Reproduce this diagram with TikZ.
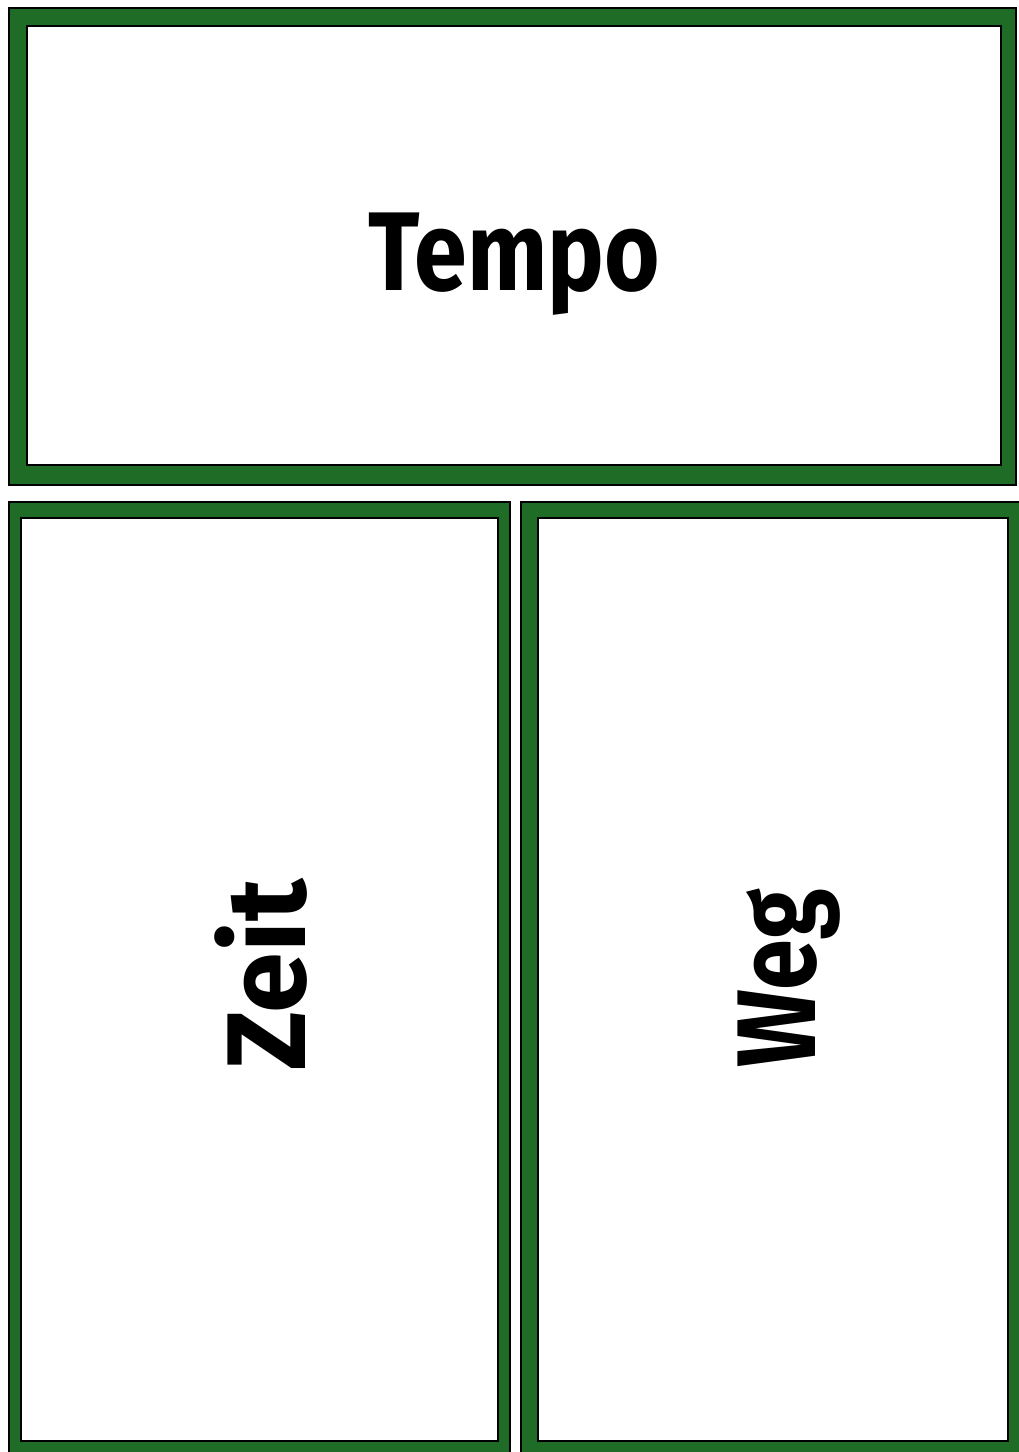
\documentclass[tikz,border=0pt]{standalone}
\usepackage{fontspec}
\setmainfont{Fira Sans}
\definecolor{cardgreen}{RGB}{30,108,38}
\begin{document}
\begin{tikzpicture}[x=1pt,y=-1pt,
  frame/.style={fill=cardgreen,draw=black,line width=1.5pt},
  innerbox/.style={fill=white,draw=black,line width=1.5pt},
  word/.style={font=\fontsize{112}{120}\selectfont\bfseries,inner sep=0pt}]
\useasboundingbox (0,0) rectangle (1019,1452);
\fill[white] (0,0) rectangle (1019,1452);
\draw[frame] (9,8) rectangle (1016,485);
\draw[innerbox] (27,26) rectangle (1001,465);
\draw[frame] (9,502) rectangle (510,1462);
\draw[innerbox] (21,518) rectangle (498,1441);
\draw[frame] (521,502) rectangle (1030,1462);
\draw[innerbox] (538,518) rectangle (1008,1441);
\node[word,anchor=base] (tempo) at (514,290) {\scalebox{0.85}[1]{Tempo}};
\node[word,anchor=base,rotate=90] (zeit) at (305,975) {\scalebox{0.98}[1]{Zeit}};
\node[word,anchor=base,rotate=90] (weg) at (815,978) {\scalebox{0.82}[1]{Weg}};
\end{tikzpicture}
\end{document}
